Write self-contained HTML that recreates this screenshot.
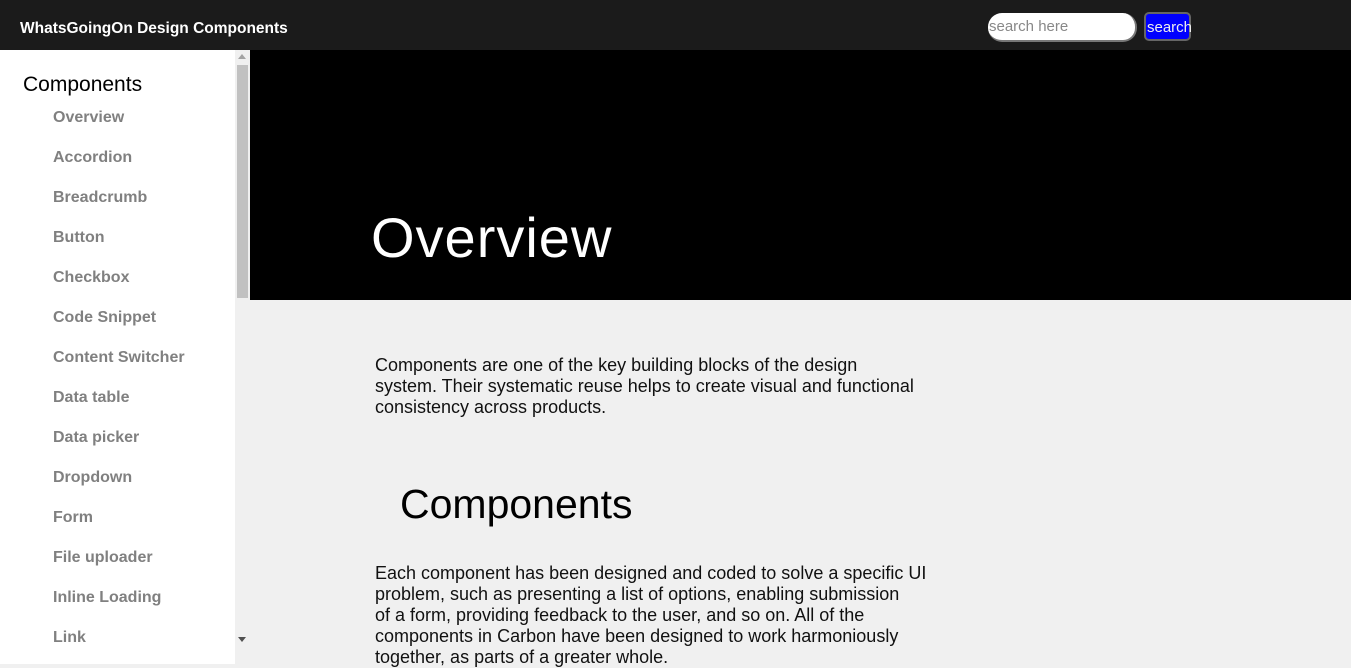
<!DOCTYPE html>
<html><head><style>
*{margin:0;padding:0;box-sizing:border-box}
body{width:1351px;height:664px;overflow:hidden;background:#f0f0f0;font-family:"Liberation Sans","DejaVu Sans",sans-serif;position:relative}
.hdr{position:absolute;left:0;top:0;width:1351px;height:50px;background:#1b1b1b}
.title{position:absolute;left:20px;top:20px;color:#fff;font-weight:bold;font-size:15.5px}
.inp{position:absolute;left:988px;top:13px;width:149px;height:29px;background:#fff;border-radius:14px;border:2px solid #777;border-top:none;border-left:none;color:#888;font-size:15px;padding:5px 0 0 1px}
.btn{position:absolute;left:1144px;top:12px;width:47px;height:29px;background:#00f;border:2px solid #666;border-radius:5px;color:#eee;font-size:15px;padding:5px 0 0 1px}
.side{position:absolute;left:0;top:50px;width:235px;height:614px;background:#fff}
.sb{position:absolute;left:235px;top:50px;width:15px;height:598px;background:#f0f0f0}
.thumb{position:absolute;left:237px;top:65px;width:11px;height:233px;background:#c1c1c1}
.h{position:absolute;left:23px;top:73px;font-size:21px;color:#000}
.it{position:absolute;left:53px;font-size:16px;color:#808080;font-weight:bold}
.hero{position:absolute;left:250px;top:50px;width:1101px;height:250px;background:#000}
.ov{position:absolute;left:371px;top:205px;font-size:56px;color:#fff;letter-spacing:1px}
.p{position:absolute;left:375px;width:552px;font-size:18px;line-height:21px;color:#111}
.h2{position:absolute;left:400px;top:481px;font-size:41px;color:#000}
</style></head><body>
<div class="hdr"><div class="title">WhatsGoingOn Design Components</div>
<div class="inp">search here</div><div class="btn">search</div></div>
<div class="side"></div>
<div class="h">Components</div>
<div class="it" style="top:109px">Overview</div>
<div class="it" style="top:149px">Accordion</div>
<div class="it" style="top:189px">Breadcrumb</div>
<div class="it" style="top:229px">Button</div>
<div class="it" style="top:269px">Checkbox</div>
<div class="it" style="top:309px">Code Snippet</div>
<div class="it" style="top:349px">Content Switcher</div>
<div class="it" style="top:389px">Data table</div>
<div class="it" style="top:429px">Data picker</div>
<div class="it" style="top:469px">Dropdown</div>
<div class="it" style="top:509px">Form</div>
<div class="it" style="top:549px">File uploader</div>
<div class="it" style="top:589px">Inline Loading</div>
<div class="it" style="top:629px">Link</div>
<div class="sb"></div><div class="thumb"></div>
<div style="position:absolute;left:238px;top:54px;width:0;height:0;border-left:4px solid transparent;border-right:4px solid transparent;border-bottom:5px solid #a3a3a3"></div>
<div style="position:absolute;left:238px;top:637px;width:0;height:0;border-left:4px solid transparent;border-right:4px solid transparent;border-top:5px solid #505050"></div>
<div class="hero"></div>
<div class="ov">Overview</div>
<div class="p" style="top:355px">Components are one of the key building blocks of the design<br>system. Their systematic reuse helps to create visual and functional<br>consistency across products.</div>
<div class="h2">Components</div>
<div class="p" style="top:563px">Each component has been designed and coded to solve a specific UI<br>problem, such as presenting a list of options, enabling submission<br>of a form, providing feedback to the user, and so on. All of the<br>components in Carbon have been designed to work harmoniously<br>together, as parts of a greater whole.</div>
</body></html>
